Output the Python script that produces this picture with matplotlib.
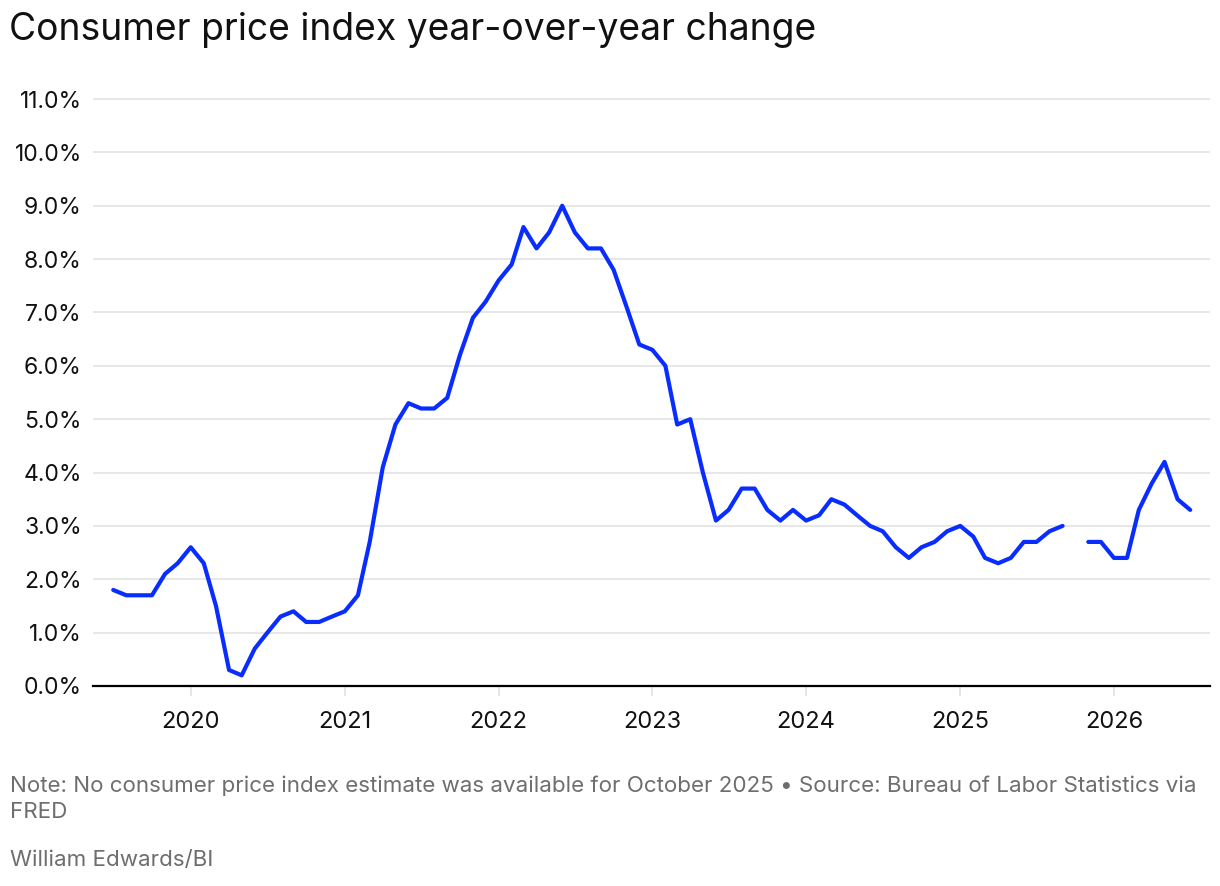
import numpy as np
import pandas as pd
import matplotlib
matplotlib.use("Agg")
import matplotlib.pyplot as plt
import matplotlib.dates as mdates

plt.rcParams['font.family'] = ['Inter', 'DejaVu Sans']

# --- dados: variação anual do CPI, mensal de jul/2019 a jul/2026 ---
meses = pd.date_range("2019-07-01", periods=85, freq="MS")
cpi_2019 = [1.8, 1.7, 1.7, 1.7, 2.1, 2.3]
cpi_2020 = [2.6, 2.3, 1.5, 0.3, 0.2, 0.7, 1.0, 1.3, 1.4, 1.2, 1.2, 1.3]
cpi_2021 = [1.4, 1.7, 2.7, 4.1, 4.9, 5.3, 5.2, 5.2, 5.4, 6.2, 6.9, 7.2]
cpi_2022 = [7.6, 7.9, 8.6, 8.2, 8.5, 9.0, 8.5, 8.2, 8.2, 7.8, 7.1, 6.4]
cpi_2023 = [6.3, 6.0, 4.9, 5.0, 4.0, 3.1, 3.3, 3.7, 3.7, 3.3, 3.1, 3.3]
cpi_2024 = [3.1, 3.2, 3.5, 3.4, 3.2, 3.0, 2.9, 2.6, 2.4, 2.6, 2.7, 2.9]
cpi_2025 = [3.0, 2.8, 2.4, 2.3, 2.4, 2.7, 2.7, 2.9, 3.0, np.nan, 2.7, 2.7]  # sem dado em out/2025
cpi_2026 = [2.4, 2.4, 3.3, 3.8, 4.2, 3.5, 3.3]
valores = cpi_2019 + cpi_2020 + cpi_2021 + cpi_2022 + cpi_2023 + cpi_2024 + cpi_2025 + cpi_2026

anos = [pd.Timestamp(f"{a}-01-01") for a in range(2020, 2027)]
y_ticks = np.arange(0, 12, 1.0)

AZUL = '#0a2dff'
CINZA_GRADE = '#e3e3e3'
CINZA_TEXTO = '#6e6e6e'

W, H = 1220, 886
fig = plt.figure(figsize=(W / 100, H / 100), dpi=100)
y_top_px, y_bot_px = 99, 686
ymax = 11.05
top_px = y_bot_px - (y_bot_px - y_top_px) * ymax / 11.0
ax = fig.add_axes([93 / W, 1 - y_bot_px / H, (1210 - 93) / W, (y_bot_px - top_px) / H])

ax.plot(meses, valores, color=AZUL, lw=3.0, solid_capstyle='round', solid_joinstyle='round', zorder=3)

ax.set_ylim(0, ymax)
ax.set_xlim(pd.Timestamp("2020-01-01") - pd.Timedelta(days=232),
            pd.Timestamp("2026-01-01") + pd.Timedelta(days=228))

ax.set_yticks(y_ticks)
ax.set_yticklabels([f"{v:.1f}%" for v in y_ticks])
ax.set_xticks(anos)
ax.xaxis.set_major_formatter(mdates.DateFormatter("%Y"))

ax.grid(axis='y', color=CINZA_GRADE, lw=1.2, zorder=0)
ax.set_axisbelow(True)
for s in ['top', 'right', 'left']:
    ax.spines[s].set_visible(False)
ax.spines['bottom'].set_color('black')
ax.spines['bottom'].set_linewidth(1.6)
ax.spines['bottom'].set_zorder(4)

ax.tick_params(axis='y', length=0, pad=8, labelsize=16.5, labelcolor='#111111')
ax.tick_params(axis='x', length=7, width=1.3, color=CINZA_GRADE, pad=11,
               labelsize=17, labelcolor='#111111')

fig.text(9 / W, 1 - 30 / H, "Consumer price index year-over-year change",
         fontsize=26.8, color='#111111', va='center', ha='left')

nota = ("Note: No consumer price index estimate was available for October 2025 "
        "\u2022 Source: Bureau of Labor Statistics via")
fig.text(10 / W, 1 - 786 / H, nota, fontsize=16.1, color=CINZA_TEXTO, va='center', ha='left')
fig.text(10 / W, 1 - 812 / H, "FRED", fontsize=16.1, color=CINZA_TEXTO, va='center', ha='left')
fig.text(10 / W, 1 - 860 / H, "William Edwards/BI", fontsize=16.1, color=CINZA_TEXTO, va='center', ha='left')

fig.savefig("out.png", dpi=100)
plt.close(fig)
